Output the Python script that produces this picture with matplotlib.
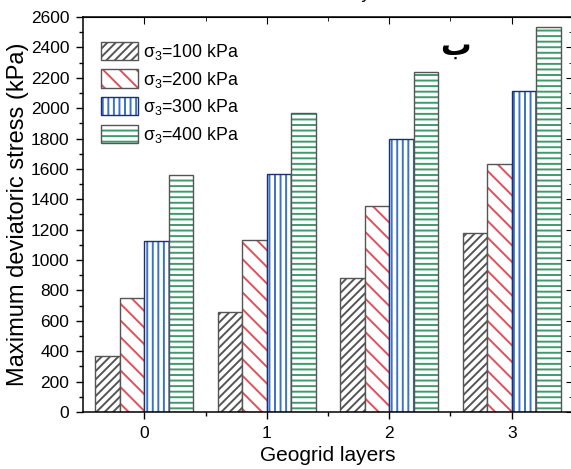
import matplotlib
matplotlib.use('Agg')
import matplotlib.pyplot as plt
import numpy as np
from matplotlib.patches import Patch

plt.rcParams['font.family'] = ['Liberation Sans', 'DejaVu Sans']
plt.rcParams['mathtext.default'] = 'regular'
plt.rcParams['hatch.linewidth'] = 1.4

# datos
capas = [0, 1, 2, 3]
etiquetas = ['σ$_3$=100 kPa', 'σ$_3$=200 kPa', 'σ$_3$=300 kPa', 'σ$_3$=400 kPa']
s100 = [370, 660, 885, 1175]
s200 = [750, 1135, 1355, 1635]
s300 = [1125, 1565, 1800, 2110]
s400 = [1560, 1965, 2235, 2535]

series = [s100, s200, s300, s400]
colores = ['#555555', '#e0505a', '#3a72c8', '#3f9a6c']
tramas = ['////', '\\\\', '|||', '---']
bordes = ['#555555', '#555555', '#1c2f6e', '#555555']

fig = plt.figure(figsize=(5.71, 4.69), dpi=100)
ax = fig.add_axes([0.1454, 0.1215, 0.858, 0.8423])

x = np.array(capas)
ancho = 0.2
for i, (vals, col, tr, bd) in enumerate(zip(series, colores, tramas, bordes)):
    pos = x + (i - 1.5) * ancho
    # trama en color, borde aparte
    ax.bar(pos, vals, ancho, color='white', edgecolor=col, hatch=tr, linewidth=0)
    ax.bar(pos, vals, ancho, fill=False, edgecolor=bd, linewidth=1.0)

# leyenda
manijas = [Patch(facecolor='white', edgecolor=c, hatch=t, linewidth=0) for c, t in zip(colores, tramas)]
marcos = [Patch(fill=False, edgecolor=b, linewidth=1.0) for b in bordes]
ax.legend([(m, f) for m, f in zip(manijas, marcos)], etiquetas, loc='upper left',
          frameon=False, fontsize=12.8, handlelength=2.1, handleheight=1.2,
          labelspacing=0.42, handletextpad=0.25, borderaxespad=0,
          bbox_to_anchor=(0.022, 0.955))

ax.set_xlim(-0.5, 3.5)
ax.set_ylim(0, 2600)
ax.set_xticks(capas)
ax.set_xticks([0.5, 1.5, 2.5], minor=True)
ax.set_yticks(np.arange(0, 2601, 200))
ax.set_yticks(np.arange(100, 2600, 200), minor=True)
ax.tick_params(axis='both', which='major', direction='out', length=5, width=1,
               labelsize=12.5, pad=5)
ax.tick_params(axis='both', which='minor', direction='out', length=3, width=1)

sx = ax.secondary_xaxis('top')
sx.set_xticks(capas)
sx.set_xticks([0.5, 1.5, 2.5], minor=True)
sx.tick_params(which='major', direction='in', length=5, labeltop=False)
sx.tick_params(which='minor', direction='in', length=3)
sy = ax.secondary_yaxis('right')
sy.set_yticks(np.arange(0, 2601, 200))
sy.set_yticks(np.arange(100, 2600, 200), minor=True)
sy.tick_params(which='major', direction='in', length=5, labelright=False)
sy.tick_params(which='minor', direction='in', length=3)

for s in ax.spines.values():
    s.set_linewidth(1.1)

ax.set_xlabel('Geogrid layers', fontsize=15, labelpad=4)
ax.set_ylabel('Maximum deviatoric stress (kPa)', fontsize=17, labelpad=1)
ax.set_title('Geotextile layers', fontsize=13, pad=14)

ax.text(0.76, 0.925, 'ب', transform=ax.transAxes, fontsize=22, fontweight='bold',
        family='DejaVu Sans', ha='center', va='center')

fig.savefig('out.png', dpi=100)
